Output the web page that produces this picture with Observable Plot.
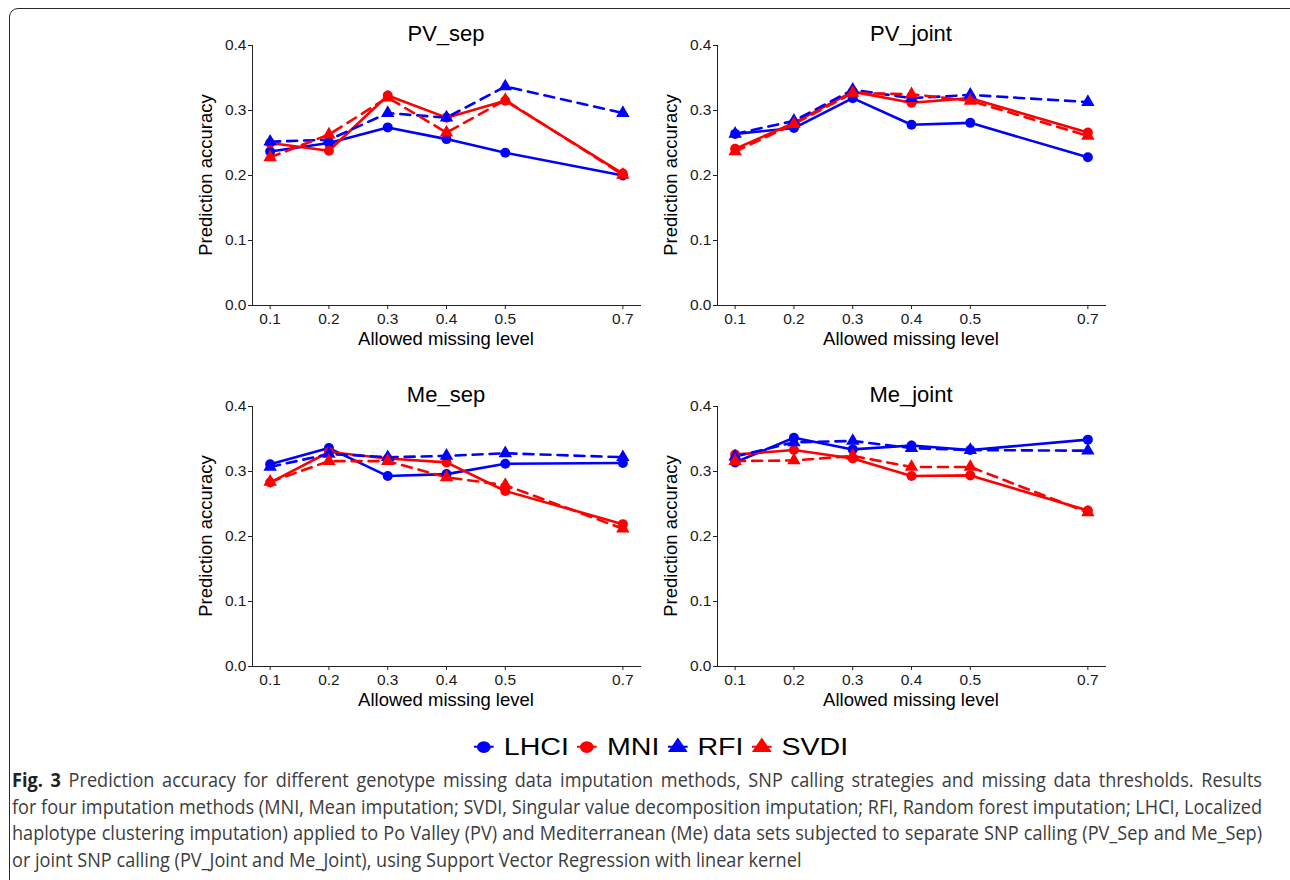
<!DOCTYPE html>
<html>
<head>
<meta charset="utf-8">
<script src="https://cdn.jsdelivr.net/npm/d3@7"></script>
<script src="https://cdn.jsdelivr.net/npm/@observablehq/plot@0.6"></script>
<style>
  body { margin: 0; background: #fff; }
  #root { position: relative; width: 1290px; height: 880px; overflow: hidden; background: #fff; font-family: "Liberation Sans", Arial, sans-serif; }
  .frame { position: absolute; left: 9px; top: 8px; width: 1300px; height: 900px; border: 1.5px solid #2a2a2a; border-radius: 9px; box-sizing: border-box; }
  .panel { position: absolute; }
  .panel svg text { font-family: "Liberation Sans", Arial, sans-serif !important; font-size: 15.5px !important; fill: #1a1a1a; }
  .lbl { position: absolute; white-space: nowrap; color: #000; transform: translate(-50%, -50%); line-height: 1; }
  .ttl { font-size: 22px; }
  .axt { font-size: 18.5px; }
  .ylab { transform: translate(-50%, -50%) rotate(-90deg); }
  #legend { position: absolute; display: flex; align-items: center; font-size: 28.6px; color: #000; transform: translate(-50%, -50%) scale(1, 0.84); white-space: nowrap; line-height: 1; }
  #legend .item { display: flex; align-items: center; margin-right: 8px; }
  #legend .item:last-child { margin-right: 0; }
  #legend svg { margin-right: 10px; }
  #caption { position: absolute; left: 12px; top: 767px; font-family: "Open Sans", sans-serif; font-size: 19.5px; color: #3c3c3c; transform-origin: 0 0; }
  #caption div { white-space: nowrap; height: 26.7px; line-height: 26.7px; }
  #caption div.just { text-align: justify; text-align-last: justify; white-space: normal; }
  #caption b { color: #222; font-weight: 700; }
</style>
</head>
<body>
<div id="root"><div class="frame"></div></div>
<script>
// ---- data ----
const levels = [0.1, 0.2, 0.3, 0.4, 0.5, 0.7];
const methods = ["LHCI", "MNI", "RFI", "SVDI"];
const methodColors = ["#0000FF", "#FF0000", "#0000FF", "#FF0000"];
const methodSymbols = ["circle", "circle", "triangle", "triangle"];
const dashedMethods = ["RFI", "SVDI"];
const panelNames = ["PV_sep", "PV_joint", "Me_sep", "Me_joint"];
const yTicks = [0, 0.1, 0.2, 0.3, 0.4];
const xLabel = "Allowed missing level";
const yLabel = "Prediction accuracy";

const pvSep_LHCI  = [0.237, 0.250, 0.274, 0.256, 0.235, 0.200];
const pvSep_MNI   = [0.250, 0.238, 0.323, 0.289, 0.315, 0.203];
const pvSep_RFI   = [0.252, 0.255, 0.296, 0.289, 0.337, 0.296];
const pvSep_SVDI  = [0.228, 0.263, 0.320, 0.266, 0.316, 0.201];

const pvJoint_LHCI = [0.264, 0.273, 0.319, 0.278, 0.281, 0.228];
const pvJoint_MNI  = [0.241, 0.281, 0.329, 0.312, 0.319, 0.266];
const pvJoint_RFI  = [0.264, 0.284, 0.332, 0.319, 0.324, 0.313];
const pvJoint_SVDI = [0.237, 0.279, 0.327, 0.325, 0.315, 0.261];

const meSep_LHCI = [0.311, 0.336, 0.293, 0.296, 0.312, 0.313];
const meSep_MNI  = [0.283, 0.330, 0.320, 0.314, 0.270, 0.219];
const meSep_RFI  = [0.307, 0.327, 0.322, 0.324, 0.328, 0.322];
const meSep_SVDI = [0.284, 0.316, 0.316, 0.291, 0.279, 0.212];

const meJoint_LHCI = [0.314, 0.352, 0.334, 0.340, 0.333, 0.349];
const meJoint_MNI  = [0.326, 0.333, 0.320, 0.293, 0.294, 0.240];
const meJoint_RFI  = [0.323, 0.345, 0.347, 0.336, 0.333, 0.332];
const meJoint_SVDI = [0.316, 0.317, 0.324, 0.307, 0.307, 0.237];

const panelSeries = [
  [pvSep_LHCI, pvSep_MNI, pvSep_RFI, pvSep_SVDI],
  [pvJoint_LHCI, pvJoint_MNI, pvJoint_RFI, pvJoint_SVDI],
  [meSep_LHCI, meSep_MNI, meSep_RFI, meSep_SVDI],
  [meJoint_LHCI, meJoint_MNI, meJoint_RFI, meJoint_SVDI]
];

const captionLines = [
  ["Fig. 3", " Prediction accuracy for different genotype missing data imputation methods, SNP calling strategies and missing data thresholds. Results"],
  ["", "for four imputation methods (MNI, Mean imputation; SVDI, Singular value decomposition imputation; RFI, Random forest imputation; LHCI, Localized"],
  ["", "haplotype clustering imputation) applied to Po Valley (PV) and Mediterranean (Me) data sets subjected to separate SNP calling (PV_Sep and Me_Sep)"],
  ["", "or joint SNP calling (PV_Joint and Me_Joint), using Support Vector Regression with linear kernel"]
];

// ---- layout ----
const root = document.getElementById("root");
const W = 460, H = 345, mL = 62, mR = 10, mT = 35, mB = 50;
const panelPos = [[190, 10], [655, 10], [190, 371], [655, 371]];

panelNames.forEach((name, p) => {
  const rows = [];
  methods.forEach((m, k) => {
    levels.forEach((lv, i) => rows.push({ panel: name, method: m, level: lv, acc: panelSeries[p][k][i] }));
  });
  const solid = rows.filter(d => !dashedMethods.includes(d.method));
  const dashed = rows.filter(d => dashedMethods.includes(d.method));
  const chart = Plot.plot({
    width: W, height: H,
    marginLeft: mL, marginRight: mR, marginTop: mT, marginBottom: mB,
    style: { fontFamily: "'Liberation Sans', Arial, sans-serif", fontSize: "15.5px", color: "#222", background: "transparent" },
    x: { type: "linear", domain: [0.07, 0.73], ticks: levels, tickFormat: d3.format(".1f"), tickSize: 4, tickPadding: 3, label: null, line: true },
    y: { domain: [0, 0.4], ticks: yTicks, tickFormat: d3.format(".1f"), tickSize: 4, tickPadding: 2, label: null, line: true },
    color: { domain: methods, range: methodColors },
    symbol: { domain: methods, range: methodSymbols },
    marks: [
      Plot.line(solid, { x: "level", y: "acc", z: "method", stroke: "method", strokeWidth: 2.6 }),
      Plot.line(dashed, { x: "level", y: "acc", z: "method", stroke: "method", strokeWidth: 2.6, strokeDasharray: "10,7" }),
      Plot.dot(rows, { x: "level", y: "acc", fill: "method", symbol: "method", r: 5, stroke: "none" })
    ]
  });
  const wrap = document.createElement("div");
  wrap.className = "panel";
  wrap.style.left = panelPos[p][0] + "px";
  wrap.style.top = panelPos[p][1] + "px";
  wrap.appendChild(chart);
  root.appendChild(wrap);

  const cx = panelPos[p][0] + mL + (W - mL - mR) / 2;
  const addLbl = (text, cls, x, y) => {
    const d = document.createElement("div");
    d.className = "lbl " + cls;
    d.textContent = text;
    d.style.left = x + "px";
    d.style.top = y + "px";
    root.appendChild(d);
  };
  addLbl(name, "ttl", cx, panelPos[p][1] + 24);
  addLbl(xLabel, "axt", cx, panelPos[p][1] + 329);
  addLbl(yLabel, "axt ylab", panelPos[p][0] + 16, panelPos[p][1] + mT + (H - mT - mB) / 2);
});

// ---- legend ----
const legend = document.createElement("div");
legend.id = "legend";
legend.style.left = "661px";
legend.style.top = "747px";
methods.forEach((m, k) => {
  const item = document.createElement("div");
  item.className = "item";
  const svg = d3.create("svg").attr("width", 20).attr("height", 24);
  svg.append("line").attr("x1", 0).attr("x2", 20).attr("y1", 12).attr("y2", 12)
    .attr("stroke", methodColors[k]).attr("stroke-width", 2.6);
  const sym = methodSymbols[k] === "circle" ? d3.symbolCircle : d3.symbolTriangle;
  svg.append("path").attr("d", d3.symbol(sym, methodSymbols[k] === "circle" ? 150 : 170)()).attr("transform", "translate(10,12.5)")
    .attr("fill", methodColors[k]);
  item.appendChild(svg.node());
  const t = document.createElement("span");
  t.textContent = m;
  item.appendChild(t);
  legend.appendChild(item);
});
root.appendChild(legend);

// ---- caption ----
const cap = document.createElement("div");
cap.id = "caption";
const lineDivs = [];
captionLines.forEach(([bold, rest]) => {
  const line = document.createElement("div");
  if (bold) { const b = document.createElement("b"); b.textContent = bold; line.appendChild(b); }
  line.appendChild(document.createTextNode(rest));
  cap.appendChild(line);
  lineDivs.push(line);
});
root.appendChild(cap);
const natural = lineDivs.map(c => { c.style.display = "inline-block"; const w = c.getBoundingClientRect().width; c.style.display = "block"; return w; });
const widest = Math.max(...natural);
const target = 1250;
const k = target / widest;
cap.style.width = widest + "px";
lineDivs.forEach((c, i) => { if (i < lineDivs.length - 1) { c.classList.add("just"); c.style.width = widest + "px"; } });
cap.style.transform = `scaleX(${k})`;
</script>
</body>
</html>
